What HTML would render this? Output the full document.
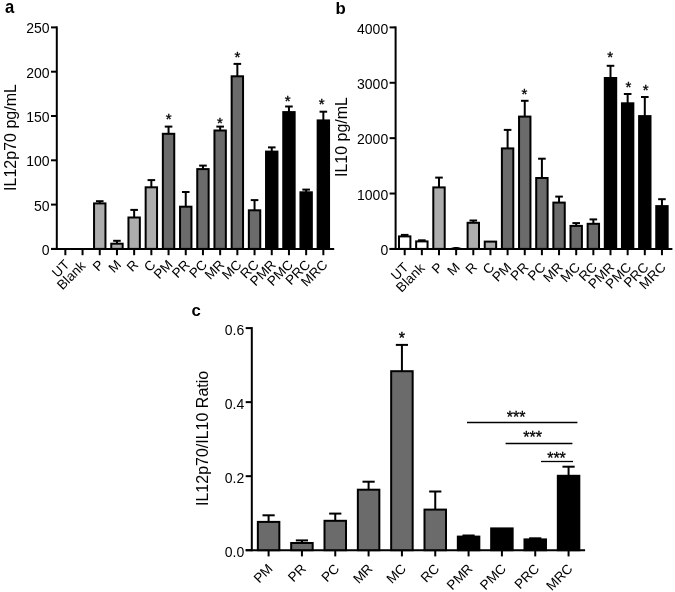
<!DOCTYPE html>
<html><head><meta charset="utf-8"><style>
html,body{margin:0;padding:0;background:#fff;width:675px;height:592px;overflow:hidden}
svg{display:block;font-family:"Liberation Sans", sans-serif;will-change:transform}
</style></head><body>
<svg width="675" height="592" viewBox="0 0 675 592">
<rect width="675" height="592" fill="#fff"/>
<line x1="56.80" y1="26.40" x2="56.80" y2="249.90" stroke="#000" stroke-width="2"/>
<line x1="51.00" y1="248.90" x2="56.80" y2="248.90" stroke="#000" stroke-width="2"/>
<text x="49.60" y="254.90" font-size="14" text-anchor="end" font-weight="normal">0</text>
<line x1="51.00" y1="204.60" x2="56.80" y2="204.60" stroke="#000" stroke-width="2"/>
<text x="49.60" y="210.60" font-size="14" text-anchor="end" font-weight="normal">50</text>
<line x1="51.00" y1="160.30" x2="56.80" y2="160.30" stroke="#000" stroke-width="2"/>
<text x="49.60" y="166.30" font-size="14" text-anchor="end" font-weight="normal">100</text>
<line x1="51.00" y1="116.00" x2="56.80" y2="116.00" stroke="#000" stroke-width="2"/>
<text x="49.60" y="122.00" font-size="14" text-anchor="end" font-weight="normal">150</text>
<line x1="51.00" y1="71.70" x2="56.80" y2="71.70" stroke="#000" stroke-width="2"/>
<text x="49.60" y="77.70" font-size="14" text-anchor="end" font-weight="normal">200</text>
<line x1="51.00" y1="27.40" x2="56.80" y2="27.40" stroke="#000" stroke-width="2"/>
<text x="49.60" y="33.40" font-size="14" text-anchor="end" font-weight="normal">250</text>
<line x1="51.00" y1="248.90" x2="334.20" y2="248.90" stroke="#000" stroke-width="2"/>
<line x1="65.35" y1="248.90" x2="65.35" y2="255.20" stroke="#000" stroke-width="2"/>
<line x1="82.55" y1="248.90" x2="82.55" y2="255.20" stroke="#000" stroke-width="2"/>
<line x1="99.75" y1="248.90" x2="99.75" y2="255.20" stroke="#000" stroke-width="2"/>
<line x1="116.95" y1="248.90" x2="116.95" y2="255.20" stroke="#000" stroke-width="2"/>
<line x1="134.15" y1="248.90" x2="134.15" y2="255.20" stroke="#000" stroke-width="2"/>
<line x1="151.35" y1="248.90" x2="151.35" y2="255.20" stroke="#000" stroke-width="2"/>
<line x1="168.55" y1="248.90" x2="168.55" y2="255.20" stroke="#000" stroke-width="2"/>
<line x1="185.75" y1="248.90" x2="185.75" y2="255.20" stroke="#000" stroke-width="2"/>
<line x1="202.95" y1="248.90" x2="202.95" y2="255.20" stroke="#000" stroke-width="2"/>
<line x1="220.15" y1="248.90" x2="220.15" y2="255.20" stroke="#000" stroke-width="2"/>
<line x1="237.35" y1="248.90" x2="237.35" y2="255.20" stroke="#000" stroke-width="2"/>
<line x1="254.55" y1="248.90" x2="254.55" y2="255.20" stroke="#000" stroke-width="2"/>
<line x1="271.75" y1="248.90" x2="271.75" y2="255.20" stroke="#000" stroke-width="2"/>
<line x1="288.95" y1="248.90" x2="288.95" y2="255.20" stroke="#000" stroke-width="2"/>
<line x1="306.15" y1="248.90" x2="306.15" y2="255.20" stroke="#000" stroke-width="2"/>
<line x1="323.35" y1="248.90" x2="323.35" y2="255.20" stroke="#000" stroke-width="2"/>
<line x1="99.75" y1="203.40" x2="99.75" y2="201.20" stroke="#000" stroke-width="2"/>
<line x1="95.95" y1="201.20" x2="103.55" y2="201.20" stroke="#000" stroke-width="2"/>
<rect x="94.05" y="203.40" width="11.40" height="45.50" fill="#adadad" stroke="#000" stroke-width="2"/>
<line x1="116.95" y1="243.70" x2="116.95" y2="240.80" stroke="#000" stroke-width="2"/>
<line x1="113.15" y1="240.80" x2="120.75" y2="240.80" stroke="#000" stroke-width="2"/>
<rect x="111.25" y="243.70" width="11.40" height="5.20" fill="#adadad" stroke="#000" stroke-width="2"/>
<line x1="134.15" y1="217.50" x2="134.15" y2="209.90" stroke="#000" stroke-width="2"/>
<line x1="130.35" y1="209.90" x2="137.95" y2="209.90" stroke="#000" stroke-width="2"/>
<rect x="128.45" y="217.50" width="11.40" height="31.40" fill="#adadad" stroke="#000" stroke-width="2"/>
<line x1="151.35" y1="187.30" x2="151.35" y2="180.10" stroke="#000" stroke-width="2"/>
<line x1="147.55" y1="180.10" x2="155.15" y2="180.10" stroke="#000" stroke-width="2"/>
<rect x="145.65" y="187.30" width="11.40" height="61.60" fill="#adadad" stroke="#000" stroke-width="2"/>
<line x1="168.55" y1="133.80" x2="168.55" y2="126.60" stroke="#000" stroke-width="2"/>
<line x1="164.75" y1="126.60" x2="172.35" y2="126.60" stroke="#000" stroke-width="2"/>
<rect x="162.85" y="133.80" width="11.40" height="115.10" fill="#6b6b6b" stroke="#000" stroke-width="2"/>
<line x1="185.75" y1="206.70" x2="185.75" y2="192.00" stroke="#000" stroke-width="2"/>
<line x1="181.95" y1="192.00" x2="189.55" y2="192.00" stroke="#000" stroke-width="2"/>
<rect x="180.05" y="206.70" width="11.40" height="42.20" fill="#6b6b6b" stroke="#000" stroke-width="2"/>
<line x1="202.95" y1="169.10" x2="202.95" y2="165.60" stroke="#000" stroke-width="2"/>
<line x1="199.15" y1="165.60" x2="206.75" y2="165.60" stroke="#000" stroke-width="2"/>
<rect x="197.25" y="169.10" width="11.40" height="79.80" fill="#6b6b6b" stroke="#000" stroke-width="2"/>
<line x1="220.15" y1="130.50" x2="220.15" y2="126.60" stroke="#000" stroke-width="2"/>
<line x1="216.35" y1="126.60" x2="223.95" y2="126.60" stroke="#000" stroke-width="2"/>
<rect x="214.45" y="130.50" width="11.40" height="118.40" fill="#6b6b6b" stroke="#000" stroke-width="2"/>
<line x1="237.35" y1="76.30" x2="237.35" y2="63.90" stroke="#000" stroke-width="2"/>
<line x1="233.55" y1="63.90" x2="241.15" y2="63.90" stroke="#000" stroke-width="2"/>
<rect x="231.65" y="76.30" width="11.40" height="172.60" fill="#6b6b6b" stroke="#000" stroke-width="2"/>
<line x1="254.55" y1="210.30" x2="254.55" y2="200.10" stroke="#000" stroke-width="2"/>
<line x1="250.75" y1="200.10" x2="258.35" y2="200.10" stroke="#000" stroke-width="2"/>
<rect x="248.85" y="210.30" width="11.40" height="38.60" fill="#6b6b6b" stroke="#000" stroke-width="2"/>
<line x1="271.75" y1="151.60" x2="271.75" y2="147.40" stroke="#000" stroke-width="2"/>
<line x1="267.95" y1="147.40" x2="275.55" y2="147.40" stroke="#000" stroke-width="2"/>
<rect x="266.05" y="151.60" width="11.40" height="97.30" fill="#000000" stroke="#000" stroke-width="2"/>
<line x1="288.95" y1="112.10" x2="288.95" y2="106.50" stroke="#000" stroke-width="2"/>
<line x1="285.15" y1="106.50" x2="292.75" y2="106.50" stroke="#000" stroke-width="2"/>
<rect x="283.25" y="112.10" width="11.40" height="136.80" fill="#000000" stroke="#000" stroke-width="2"/>
<line x1="306.15" y1="192.30" x2="306.15" y2="189.60" stroke="#000" stroke-width="2"/>
<line x1="302.35" y1="189.60" x2="309.95" y2="189.60" stroke="#000" stroke-width="2"/>
<rect x="300.45" y="192.30" width="11.40" height="56.60" fill="#000000" stroke="#000" stroke-width="2"/>
<line x1="323.35" y1="120.40" x2="323.35" y2="111.70" stroke="#000" stroke-width="2"/>
<line x1="319.55" y1="111.70" x2="327.15" y2="111.70" stroke="#000" stroke-width="2"/>
<rect x="317.65" y="120.40" width="11.40" height="128.50" fill="#000000" stroke="#000" stroke-width="2"/>
<text x="168.60" y="123.80" font-size="15" text-anchor="middle" font-weight="normal" stroke="#000" stroke-width="0.35">*</text>
<text x="220.00" y="128.10" font-size="15" text-anchor="middle" font-weight="normal" stroke="#000" stroke-width="0.35">*</text>
<text x="237.50" y="62.20" font-size="15" text-anchor="middle" font-weight="normal" stroke="#000" stroke-width="0.35">*</text>
<text x="287.70" y="106.00" font-size="15" text-anchor="middle" font-weight="normal" stroke="#000" stroke-width="0.35">*</text>
<text x="321.60" y="109.30" font-size="15" text-anchor="middle" font-weight="normal" stroke="#000" stroke-width="0.35">*</text>
<text x="70.35" y="265.50" font-size="13.5" text-anchor="end" font-weight="normal" transform="rotate(-45 70.35 265.50)">UT</text>
<text x="86.35" y="266.70" font-size="13.5" text-anchor="end" font-weight="normal" transform="rotate(-45 86.35 266.70)">Blank</text>
<text x="104.75" y="265.50" font-size="13.5" text-anchor="end" font-weight="normal" transform="rotate(-45 104.75 265.50)">P</text>
<text x="121.95" y="265.50" font-size="13.5" text-anchor="end" font-weight="normal" transform="rotate(-45 121.95 265.50)">M</text>
<text x="139.15" y="265.50" font-size="13.5" text-anchor="end" font-weight="normal" transform="rotate(-45 139.15 265.50)">R</text>
<text x="156.35" y="265.50" font-size="13.5" text-anchor="end" font-weight="normal" transform="rotate(-45 156.35 265.50)">C</text>
<text x="173.55" y="265.50" font-size="13.5" text-anchor="end" font-weight="normal" transform="rotate(-45 173.55 265.50)">PM</text>
<text x="190.75" y="265.50" font-size="13.5" text-anchor="end" font-weight="normal" transform="rotate(-45 190.75 265.50)">PR</text>
<text x="207.95" y="265.50" font-size="13.5" text-anchor="end" font-weight="normal" transform="rotate(-45 207.95 265.50)">PC</text>
<text x="225.15" y="265.50" font-size="13.5" text-anchor="end" font-weight="normal" transform="rotate(-45 225.15 265.50)">MR</text>
<text x="242.35" y="265.50" font-size="13.5" text-anchor="end" font-weight="normal" transform="rotate(-45 242.35 265.50)">MC</text>
<text x="259.55" y="265.50" font-size="13.5" text-anchor="end" font-weight="normal" transform="rotate(-45 259.55 265.50)">RC</text>
<text x="276.75" y="265.50" font-size="13.5" text-anchor="end" font-weight="normal" transform="rotate(-45 276.75 265.50)">PMR</text>
<text x="293.95" y="265.50" font-size="13.5" text-anchor="end" font-weight="normal" transform="rotate(-45 293.95 265.50)">PMC</text>
<text x="311.15" y="265.50" font-size="13.5" text-anchor="end" font-weight="normal" transform="rotate(-45 311.15 265.50)">PRC</text>
<text x="328.35" y="265.50" font-size="13.5" text-anchor="end" font-weight="normal" transform="rotate(-45 328.35 265.50)">MRC</text>
<text x="15.50" y="137.50" font-size="16" text-anchor="middle" font-weight="normal" transform="rotate(-90 15.5 137.5)">IL12p70 pg/mL</text>
<text x="0.00" y="0.00" font-size="16" text-anchor="start" font-weight="bold" transform="translate(5.0 12.6) scale(1.04 1.11)">a</text>
<line x1="395.60" y1="26.40" x2="395.60" y2="249.90" stroke="#000" stroke-width="2"/>
<line x1="389.60" y1="248.90" x2="395.60" y2="248.90" stroke="#000" stroke-width="2"/>
<text x="388.20" y="255.20" font-size="14" text-anchor="end" font-weight="normal">0</text>
<line x1="389.60" y1="193.53" x2="395.60" y2="193.53" stroke="#000" stroke-width="2"/>
<text x="388.20" y="199.83" font-size="14" text-anchor="end" font-weight="normal">1000</text>
<line x1="389.60" y1="138.15" x2="395.60" y2="138.15" stroke="#000" stroke-width="2"/>
<text x="388.20" y="144.45" font-size="14" text-anchor="end" font-weight="normal">2000</text>
<line x1="389.60" y1="82.78" x2="395.60" y2="82.78" stroke="#000" stroke-width="2"/>
<text x="388.20" y="89.08" font-size="14" text-anchor="end" font-weight="normal">3000</text>
<line x1="389.60" y1="27.40" x2="395.60" y2="27.40" stroke="#000" stroke-width="2"/>
<text x="388.20" y="33.70" font-size="14" text-anchor="end" font-weight="normal">4000</text>
<line x1="389.60" y1="248.90" x2="672.40" y2="248.90" stroke="#000" stroke-width="2"/>
<line x1="404.70" y1="248.90" x2="404.70" y2="255.20" stroke="#000" stroke-width="2"/>
<line x1="421.85" y1="248.90" x2="421.85" y2="255.20" stroke="#000" stroke-width="2"/>
<line x1="439.00" y1="248.90" x2="439.00" y2="255.20" stroke="#000" stroke-width="2"/>
<line x1="456.15" y1="248.90" x2="456.15" y2="255.20" stroke="#000" stroke-width="2"/>
<line x1="473.30" y1="248.90" x2="473.30" y2="255.20" stroke="#000" stroke-width="2"/>
<line x1="490.45" y1="248.90" x2="490.45" y2="255.20" stroke="#000" stroke-width="2"/>
<line x1="507.60" y1="248.90" x2="507.60" y2="255.20" stroke="#000" stroke-width="2"/>
<line x1="524.75" y1="248.90" x2="524.75" y2="255.20" stroke="#000" stroke-width="2"/>
<line x1="541.90" y1="248.90" x2="541.90" y2="255.20" stroke="#000" stroke-width="2"/>
<line x1="559.05" y1="248.90" x2="559.05" y2="255.20" stroke="#000" stroke-width="2"/>
<line x1="576.20" y1="248.90" x2="576.20" y2="255.20" stroke="#000" stroke-width="2"/>
<line x1="593.35" y1="248.90" x2="593.35" y2="255.20" stroke="#000" stroke-width="2"/>
<line x1="610.50" y1="248.90" x2="610.50" y2="255.20" stroke="#000" stroke-width="2"/>
<line x1="627.65" y1="248.90" x2="627.65" y2="255.20" stroke="#000" stroke-width="2"/>
<line x1="644.80" y1="248.90" x2="644.80" y2="255.20" stroke="#000" stroke-width="2"/>
<line x1="661.95" y1="248.90" x2="661.95" y2="255.20" stroke="#000" stroke-width="2"/>
<line x1="404.70" y1="236.40" x2="404.70" y2="234.90" stroke="#000" stroke-width="2"/>
<line x1="400.90" y1="234.90" x2="408.50" y2="234.90" stroke="#000" stroke-width="2"/>
<rect x="399.00" y="236.40" width="11.40" height="12.50" fill="#ffffff" stroke="#000" stroke-width="2"/>
<line x1="421.85" y1="241.40" x2="421.85" y2="240.30" stroke="#000" stroke-width="2"/>
<line x1="418.05" y1="240.30" x2="425.65" y2="240.30" stroke="#000" stroke-width="2"/>
<rect x="416.15" y="241.40" width="11.40" height="7.50" fill="#ffffff" stroke="#000" stroke-width="2"/>
<line x1="439.00" y1="187.40" x2="439.00" y2="177.60" stroke="#000" stroke-width="2"/>
<line x1="435.20" y1="177.60" x2="442.80" y2="177.60" stroke="#000" stroke-width="2"/>
<rect x="433.30" y="187.40" width="11.40" height="61.50" fill="#adadad" stroke="#000" stroke-width="2"/>
<line x1="473.30" y1="222.80" x2="473.30" y2="220.50" stroke="#000" stroke-width="2"/>
<line x1="469.50" y1="220.50" x2="477.10" y2="220.50" stroke="#000" stroke-width="2"/>
<rect x="467.60" y="222.80" width="11.40" height="26.10" fill="#adadad" stroke="#000" stroke-width="2"/>
<rect x="484.75" y="241.60" width="11.40" height="7.30" fill="#adadad" stroke="#000" stroke-width="2"/>
<line x1="507.60" y1="148.40" x2="507.60" y2="129.90" stroke="#000" stroke-width="2"/>
<line x1="503.80" y1="129.90" x2="511.40" y2="129.90" stroke="#000" stroke-width="2"/>
<rect x="501.90" y="148.40" width="11.40" height="100.50" fill="#6b6b6b" stroke="#000" stroke-width="2"/>
<line x1="524.75" y1="116.60" x2="524.75" y2="100.80" stroke="#000" stroke-width="2"/>
<line x1="520.95" y1="100.80" x2="528.55" y2="100.80" stroke="#000" stroke-width="2"/>
<rect x="519.05" y="116.60" width="11.40" height="132.30" fill="#6b6b6b" stroke="#000" stroke-width="2"/>
<line x1="541.90" y1="178.00" x2="541.90" y2="158.70" stroke="#000" stroke-width="2"/>
<line x1="538.10" y1="158.70" x2="545.70" y2="158.70" stroke="#000" stroke-width="2"/>
<rect x="536.20" y="178.00" width="11.40" height="70.90" fill="#6b6b6b" stroke="#000" stroke-width="2"/>
<line x1="559.05" y1="202.60" x2="559.05" y2="196.60" stroke="#000" stroke-width="2"/>
<line x1="555.25" y1="196.60" x2="562.85" y2="196.60" stroke="#000" stroke-width="2"/>
<rect x="553.35" y="202.60" width="11.40" height="46.30" fill="#6b6b6b" stroke="#000" stroke-width="2"/>
<line x1="576.20" y1="225.90" x2="576.20" y2="223.10" stroke="#000" stroke-width="2"/>
<line x1="572.40" y1="223.10" x2="580.00" y2="223.10" stroke="#000" stroke-width="2"/>
<rect x="570.50" y="225.90" width="11.40" height="23.00" fill="#6b6b6b" stroke="#000" stroke-width="2"/>
<line x1="593.35" y1="223.80" x2="593.35" y2="219.40" stroke="#000" stroke-width="2"/>
<line x1="589.55" y1="219.40" x2="597.15" y2="219.40" stroke="#000" stroke-width="2"/>
<rect x="587.65" y="223.80" width="11.40" height="25.10" fill="#6b6b6b" stroke="#000" stroke-width="2"/>
<line x1="610.50" y1="78.00" x2="610.50" y2="65.80" stroke="#000" stroke-width="2"/>
<line x1="606.70" y1="65.80" x2="614.30" y2="65.80" stroke="#000" stroke-width="2"/>
<rect x="604.80" y="78.00" width="11.40" height="170.90" fill="#000000" stroke="#000" stroke-width="2"/>
<line x1="627.65" y1="103.30" x2="627.65" y2="94.00" stroke="#000" stroke-width="2"/>
<line x1="623.85" y1="94.00" x2="631.45" y2="94.00" stroke="#000" stroke-width="2"/>
<rect x="621.95" y="103.30" width="11.40" height="145.60" fill="#000000" stroke="#000" stroke-width="2"/>
<line x1="644.80" y1="116.10" x2="644.80" y2="97.00" stroke="#000" stroke-width="2"/>
<line x1="641.00" y1="97.00" x2="648.60" y2="97.00" stroke="#000" stroke-width="2"/>
<rect x="639.10" y="116.10" width="11.40" height="132.80" fill="#000000" stroke="#000" stroke-width="2"/>
<line x1="661.95" y1="206.10" x2="661.95" y2="199.20" stroke="#000" stroke-width="2"/>
<line x1="658.15" y1="199.20" x2="665.75" y2="199.20" stroke="#000" stroke-width="2"/>
<rect x="656.25" y="206.10" width="11.40" height="42.80" fill="#000000" stroke="#000" stroke-width="2"/>
<path d="M449.65 248.2 L452.65 247.5 L454.65 246.9 L457.65 246.9 L459.65 247.5 L462.65 248.2 Z" fill="#000"/>
<text x="524.50" y="99.00" font-size="15" text-anchor="middle" font-weight="normal" stroke="#000" stroke-width="0.35">*</text>
<text x="610.10" y="61.50" font-size="15" text-anchor="middle" font-weight="normal" stroke="#000" stroke-width="0.35">*</text>
<text x="628.50" y="91.90" font-size="15" text-anchor="middle" font-weight="normal" stroke="#000" stroke-width="0.35">*</text>
<text x="645.70" y="94.50" font-size="15" text-anchor="middle" font-weight="normal" stroke="#000" stroke-width="0.35">*</text>
<text x="409.30" y="268.20" font-size="13.5" text-anchor="end" font-weight="normal" transform="rotate(-45 409.30 268.20)">UT</text>
<text x="425.45" y="269.00" font-size="13.5" text-anchor="end" font-weight="normal" transform="rotate(-45 425.45 269.00)">Blank</text>
<text x="443.60" y="268.20" font-size="13.5" text-anchor="end" font-weight="normal" transform="rotate(-45 443.60 268.20)">P</text>
<text x="460.75" y="268.20" font-size="13.5" text-anchor="end" font-weight="normal" transform="rotate(-45 460.75 268.20)">M</text>
<text x="477.90" y="268.20" font-size="13.5" text-anchor="end" font-weight="normal" transform="rotate(-45 477.90 268.20)">R</text>
<text x="495.05" y="268.20" font-size="13.5" text-anchor="end" font-weight="normal" transform="rotate(-45 495.05 268.20)">C</text>
<text x="512.20" y="268.20" font-size="13.5" text-anchor="end" font-weight="normal" transform="rotate(-45 512.20 268.20)">PM</text>
<text x="529.35" y="268.20" font-size="13.5" text-anchor="end" font-weight="normal" transform="rotate(-45 529.35 268.20)">PR</text>
<text x="546.50" y="268.20" font-size="13.5" text-anchor="end" font-weight="normal" transform="rotate(-45 546.50 268.20)">PC</text>
<text x="563.65" y="268.20" font-size="13.5" text-anchor="end" font-weight="normal" transform="rotate(-45 563.65 268.20)">MR</text>
<text x="580.80" y="268.20" font-size="13.5" text-anchor="end" font-weight="normal" transform="rotate(-45 580.80 268.20)">MC</text>
<text x="597.95" y="268.20" font-size="13.5" text-anchor="end" font-weight="normal" transform="rotate(-45 597.95 268.20)">RC</text>
<text x="615.10" y="268.20" font-size="13.5" text-anchor="end" font-weight="normal" transform="rotate(-45 615.10 268.20)">PMR</text>
<text x="632.25" y="268.20" font-size="13.5" text-anchor="end" font-weight="normal" transform="rotate(-45 632.25 268.20)">PMC</text>
<text x="649.40" y="268.20" font-size="13.5" text-anchor="end" font-weight="normal" transform="rotate(-45 649.40 268.20)">PRC</text>
<text x="666.55" y="268.20" font-size="13.5" text-anchor="end" font-weight="normal" transform="rotate(-45 666.55 268.20)">MRC</text>
<text x="346.50" y="137.00" font-size="16" text-anchor="middle" font-weight="normal" transform="rotate(-90 346.5 137.0)">IL10 pg/mL</text>
<text x="335.60" y="13.80" font-size="16" text-anchor="start" font-weight="bold" transform="translate(335.6 0) scale(1.05 1) translate(-335.6 0)">b</text>
<line x1="251.80" y1="327.10" x2="251.80" y2="551.20" stroke="#000" stroke-width="2"/>
<line x1="245.70" y1="550.20" x2="251.80" y2="550.20" stroke="#000" stroke-width="2"/>
<text x="244.20" y="556.70" font-size="14" text-anchor="end" font-weight="normal">0.0</text>
<line x1="245.70" y1="476.17" x2="251.80" y2="476.17" stroke="#000" stroke-width="2"/>
<text x="244.20" y="482.67" font-size="14" text-anchor="end" font-weight="normal">0.2</text>
<line x1="245.70" y1="402.13" x2="251.80" y2="402.13" stroke="#000" stroke-width="2"/>
<text x="244.20" y="408.63" font-size="14" text-anchor="end" font-weight="normal">0.4</text>
<line x1="245.70" y1="328.10" x2="251.80" y2="328.10" stroke="#000" stroke-width="2"/>
<text x="244.20" y="334.60" font-size="14" text-anchor="end" font-weight="normal">0.6</text>
<line x1="245.70" y1="550.20" x2="585.10" y2="550.20" stroke="#000" stroke-width="2"/>
<line x1="268.60" y1="550.20" x2="268.60" y2="556.40" stroke="#000" stroke-width="2"/>
<line x1="301.93" y1="550.20" x2="301.93" y2="556.40" stroke="#000" stroke-width="2"/>
<line x1="335.26" y1="550.20" x2="335.26" y2="556.40" stroke="#000" stroke-width="2"/>
<line x1="368.59" y1="550.20" x2="368.59" y2="556.40" stroke="#000" stroke-width="2"/>
<line x1="401.92" y1="550.20" x2="401.92" y2="556.40" stroke="#000" stroke-width="2"/>
<line x1="435.25" y1="550.20" x2="435.25" y2="556.40" stroke="#000" stroke-width="2"/>
<line x1="468.58" y1="550.20" x2="468.58" y2="556.40" stroke="#000" stroke-width="2"/>
<line x1="501.91" y1="550.20" x2="501.91" y2="556.40" stroke="#000" stroke-width="2"/>
<line x1="535.24" y1="550.20" x2="535.24" y2="556.40" stroke="#000" stroke-width="2"/>
<line x1="568.57" y1="550.20" x2="568.57" y2="556.40" stroke="#000" stroke-width="2"/>
<line x1="268.60" y1="521.90" x2="268.60" y2="515.30" stroke="#000" stroke-width="2"/>
<line x1="262.50" y1="515.30" x2="274.70" y2="515.30" stroke="#000" stroke-width="2"/>
<rect x="257.85" y="521.90" width="21.50" height="28.30" fill="#6b6b6b" stroke="#000" stroke-width="2"/>
<line x1="301.93" y1="543.00" x2="301.93" y2="540.40" stroke="#000" stroke-width="2"/>
<line x1="295.83" y1="540.40" x2="308.03" y2="540.40" stroke="#000" stroke-width="2"/>
<rect x="291.18" y="543.00" width="21.50" height="7.20" fill="#6b6b6b" stroke="#000" stroke-width="2"/>
<line x1="335.26" y1="520.80" x2="335.26" y2="513.60" stroke="#000" stroke-width="2"/>
<line x1="329.16" y1="513.60" x2="341.36" y2="513.60" stroke="#000" stroke-width="2"/>
<rect x="324.51" y="520.80" width="21.50" height="29.40" fill="#6b6b6b" stroke="#000" stroke-width="2"/>
<line x1="368.59" y1="489.70" x2="368.59" y2="481.70" stroke="#000" stroke-width="2"/>
<line x1="362.49" y1="481.70" x2="374.69" y2="481.70" stroke="#000" stroke-width="2"/>
<rect x="357.84" y="489.70" width="21.50" height="60.50" fill="#6b6b6b" stroke="#000" stroke-width="2"/>
<line x1="401.92" y1="371.20" x2="401.92" y2="344.90" stroke="#000" stroke-width="2"/>
<line x1="395.82" y1="344.90" x2="408.02" y2="344.90" stroke="#000" stroke-width="2"/>
<rect x="391.17" y="371.20" width="21.50" height="179.00" fill="#6b6b6b" stroke="#000" stroke-width="2"/>
<line x1="435.25" y1="509.60" x2="435.25" y2="491.50" stroke="#000" stroke-width="2"/>
<line x1="429.15" y1="491.50" x2="441.35" y2="491.50" stroke="#000" stroke-width="2"/>
<rect x="424.50" y="509.60" width="21.50" height="40.60" fill="#6b6b6b" stroke="#000" stroke-width="2"/>
<line x1="468.58" y1="536.60" x2="468.58" y2="535.50" stroke="#000" stroke-width="2"/>
<line x1="462.48" y1="535.50" x2="474.68" y2="535.50" stroke="#000" stroke-width="2"/>
<rect x="457.83" y="536.60" width="21.50" height="13.60" fill="#000000" stroke="#000" stroke-width="2"/>
<rect x="491.16" y="528.40" width="21.50" height="21.80" fill="#000000" stroke="#000" stroke-width="2"/>
<line x1="535.24" y1="539.40" x2="535.24" y2="538.30" stroke="#000" stroke-width="2"/>
<line x1="529.14" y1="538.30" x2="541.34" y2="538.30" stroke="#000" stroke-width="2"/>
<rect x="524.49" y="539.40" width="21.50" height="10.80" fill="#000000" stroke="#000" stroke-width="2"/>
<line x1="568.57" y1="475.80" x2="568.57" y2="466.70" stroke="#000" stroke-width="2"/>
<line x1="562.47" y1="466.70" x2="574.67" y2="466.70" stroke="#000" stroke-width="2"/>
<rect x="557.82" y="475.80" width="21.50" height="74.40" fill="#000000" stroke="#000" stroke-width="2"/>
<text x="401.80" y="343.62" font-size="16" text-anchor="middle" font-weight="normal" stroke="#000" stroke-width="0.35">*</text>
<line x1="467.00" y1="422.50" x2="577.40" y2="422.50" stroke="#000" stroke-width="1.3"/>
<line x1="505.60" y1="443.50" x2="572.40" y2="443.50" stroke="#000" stroke-width="1.3"/>
<line x1="541.00" y1="461.50" x2="573.00" y2="461.50" stroke="#000" stroke-width="1.3"/>
<text x="516.20" y="422.60" font-size="16" text-anchor="middle" font-weight="normal" stroke="#000" stroke-width="0.3">***</text>
<text x="532.70" y="443.10" font-size="16" text-anchor="middle" font-weight="normal" stroke="#000" stroke-width="0.3">***</text>
<text x="556.50" y="464.00" font-size="16" text-anchor="middle" font-weight="normal" stroke="#000" stroke-width="0.3">***</text>
<text x="273.50" y="569.50" font-size="13.5" text-anchor="end" font-weight="normal" transform="rotate(-45 273.50 569.50)">PM</text>
<text x="306.83" y="569.50" font-size="13.5" text-anchor="end" font-weight="normal" transform="rotate(-45 306.83 569.50)">PR</text>
<text x="340.16" y="569.50" font-size="13.5" text-anchor="end" font-weight="normal" transform="rotate(-45 340.16 569.50)">PC</text>
<text x="373.49" y="569.50" font-size="13.5" text-anchor="end" font-weight="normal" transform="rotate(-45 373.49 569.50)">MR</text>
<text x="406.82" y="569.50" font-size="13.5" text-anchor="end" font-weight="normal" transform="rotate(-45 406.82 569.50)">MC</text>
<text x="440.15" y="569.50" font-size="13.5" text-anchor="end" font-weight="normal" transform="rotate(-45 440.15 569.50)">RC</text>
<text x="473.48" y="569.50" font-size="13.5" text-anchor="end" font-weight="normal" transform="rotate(-45 473.48 569.50)">PMR</text>
<text x="506.81" y="569.50" font-size="13.5" text-anchor="end" font-weight="normal" transform="rotate(-45 506.81 569.50)">PMC</text>
<text x="540.14" y="569.50" font-size="13.5" text-anchor="end" font-weight="normal" transform="rotate(-45 540.14 569.50)">PRC</text>
<text x="573.47" y="569.50" font-size="13.5" text-anchor="end" font-weight="normal" transform="rotate(-45 573.47 569.50)">MRC</text>
<text x="208.50" y="438.40" font-size="16" text-anchor="middle" font-weight="normal" transform="rotate(-90 208.5 438.4)">IL12p70/IL10 Ratio</text>
<text x="191.60" y="316.10" font-size="16" text-anchor="start" font-weight="bold" transform="translate(191.6 0) scale(1.05 1) translate(-191.6 0)">c</text>
</svg>
</body></html>
